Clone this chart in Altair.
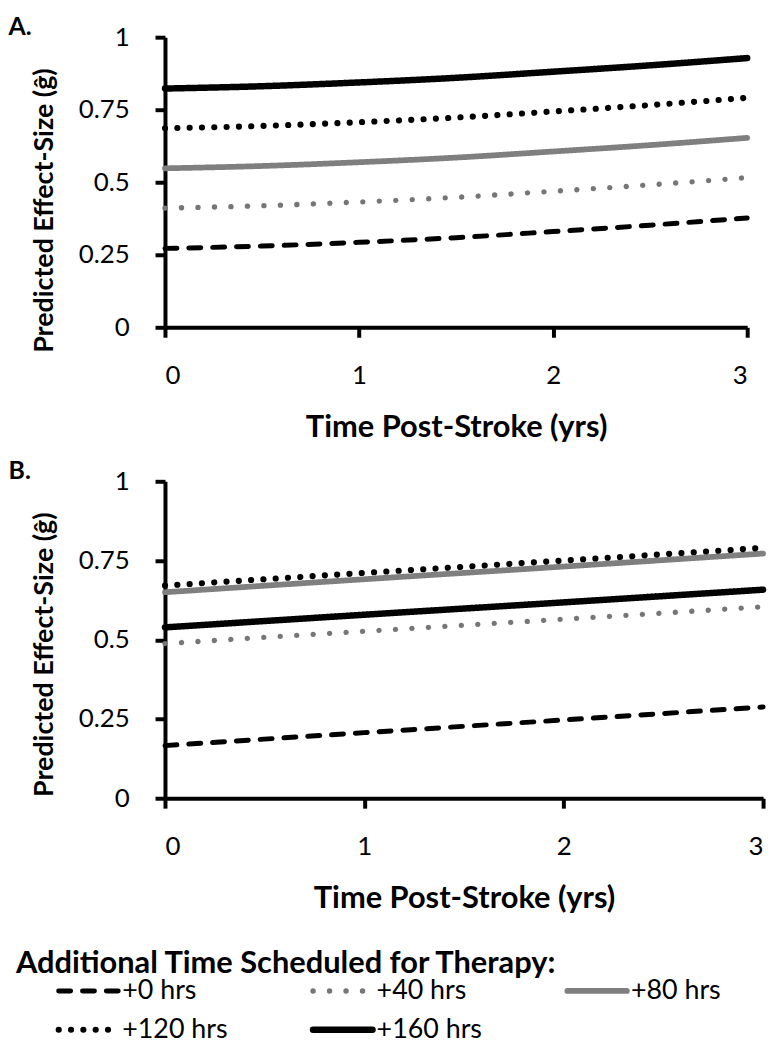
import altair as alt
import pandas as pd

# ---------------- data ----------------
series = ["+0 hrs", "+40 hrs", "+80 hrs", "+120 hrs", "+160 hrs"]

# Panel A (slightly curved)
t_a = [0, 0.5, 1, 1.5, 2, 2.5, 3]
a_0 = [0.272, 0.280, 0.293, 0.309, 0.330, 0.352, 0.377]
a_40 = [0.411, 0.419, 0.432, 0.448, 0.469, 0.491, 0.516]
a_80 = [0.548, 0.556, 0.569, 0.585, 0.606, 0.628, 0.653]
a_120 = [0.686, 0.694, 0.707, 0.723, 0.744, 0.766, 0.791]
a_160 = [0.823, 0.831, 0.844, 0.860, 0.881, 0.903, 0.928]

# Panel B (near linear)
t_b = [0, 1, 2, 3]
b_0 = [0.166, 0.207, 0.247, 0.288]
b_40 = [0.488, 0.527, 0.565, 0.604]
b_80 = [0.650, 0.691, 0.731, 0.772]
b_120 = [0.671, 0.711, 0.750, 0.790]
b_160 = [0.539, 0.579, 0.618, 0.658]

y_ticks = [0, 0.25, 0.5, 0.75, 1]
x_ticks = [0, 1, 2, 3]

# legend grid (3 columns, 2 rows)
leg_col = [0, 1, 2, 0, 1]
leg_row = [0, 0, 0, 1, 1]


def long_df(ts, cols):
    rows = []
    for name, vals in zip(series, cols):
        for t, v in zip(ts, vals):
            rows.append({"t": t, "g": v, "series": name})
    return pd.DataFrame(rows)


df_a = long_df(t_a, [a_0, a_40, a_80, a_120, a_160])
df_b = long_df(t_b, [b_0, b_40, b_80, b_120, b_160])
df_leg = pd.DataFrame({"series": series, "col": leg_col, "row": leg_row})

FONT = "Lato"

color_scale = alt.Scale(domain=series,
                        range=["#000000", "#767676", "#7f7f7f", "#000000", "#000000"])
dash_scale = alt.Scale(domain=series,
                       range=[[12, 12], [0.1, 16.5], [1, 0], [0.1, 12.3], [1, 0]])
width_scale = alt.Scale(domain=series, range=[5, 6.5, 4, 5.5, 5])


def panel(df, letter, w, h):
    return alt.Chart(df).mark_line(strokeCap="round", interpolate="monotone").encode(
        x=alt.X(
            "t:Q",
            scale=alt.Scale(domain=[0, 3], nice=False),
            axis=alt.Axis(values=x_ticks, format="d", title="Time Post-Stroke (yrs)",
                          labelPadding=26, titlePadding=24, titleFontSize=31),
        ),
        y=alt.Y(
            "g:Q",
            scale=alt.Scale(domain=[0, 1], nice=False),
            axis=alt.Axis(values=y_ticks, format=".2~f", title="Predicted Effect-Size (ĝ)",
                          labelPadding=26, titlePadding=20, titleY=174, titleFontSize=27),
        ),
        color=alt.Color("series:N", scale=color_scale, legend=None),
        strokeDash=alt.StrokeDash("series:N", scale=dash_scale, legend=None),
        strokeWidth=alt.StrokeWidth("series:N", scale=width_scale, legend=None),
        detail="series:N",
    ).properties(
        width=w,
        height=h,
        title=alt.TitleParams(letter, anchor="start", frame="bounds", fontSize=25,
                              font=FONT, fontWeight="bold", color="black", dx=-22,
                              offset=-16),
    )


chart_a = panel(df_a, "A.", 586, 292)
chart_b = panel(df_b, "B.", 602, 319)

# ---------------- manual legend ----------------
leg_base = alt.Chart(df_leg).transform_calculate(
    x0="datum.col", x1="datum.col + 0.234", xt="datum.col + 0.25"
)
leg_x = alt.Scale(domain=[0, 2], range=[-107, 405], nice=False, zero=False)
leg_y = alt.Scale(domain=[-1.564, 1.0], reverse=True, nice=False, zero=False)

leg_lines = leg_base.mark_rule(strokeCap="round").encode(
    x=alt.X("x0:Q", scale=leg_x, axis=None),
    x2="x1:Q",
    y=alt.Y("row:Q", scale=leg_y, axis=None),
    color=alt.Color("series:N", scale=color_scale, legend=None),
    strokeDash=alt.StrokeDash("series:N", scale=dash_scale, legend=None),
    strokeWidth=alt.StrokeWidth("series:N", scale=width_scale, legend=None),
)
leg_text = leg_base.mark_text(align="left", baseline="middle", font=FONT, fontSize=27,
                              color="black").encode(
    x=alt.X("xt:Q", scale=leg_x, axis=None),
    y=alt.Y("row:Q", scale=leg_y, axis=None),
    text="series:N",
)
legend_chart = alt.layer(leg_lines, leg_text).properties(
    width=500,
    height=100,
    title=alt.TitleParams("Additional Time Scheduled for Therapy:", anchor="start",
                          frame="group", fontSize=31, font=FONT, fontWeight="bold",
                          color="black", dx=-150, offset=-50),
)

chart = alt.vconcat(chart_a, chart_b, legend_chart, spacing=17).properties(
    padding={"left": 0, "top": 4, "right": 0, "bottom": 0},
    background="white",
).configure_view(stroke=None).configure_axis(
    grid=False,
    domainColor="black",
    domainWidth=4,
    tickColor="black",
    tickWidth=4,
    tickSize=10,
    labelFont=FONT,
    labelFontSize=26,
    labelColor="black",
    titleFont=FONT,
    titleFontWeight="bold",
    titleColor="black",
)

chart.save("out.html", embed_options={"renderer": "svg", "actions": False})
